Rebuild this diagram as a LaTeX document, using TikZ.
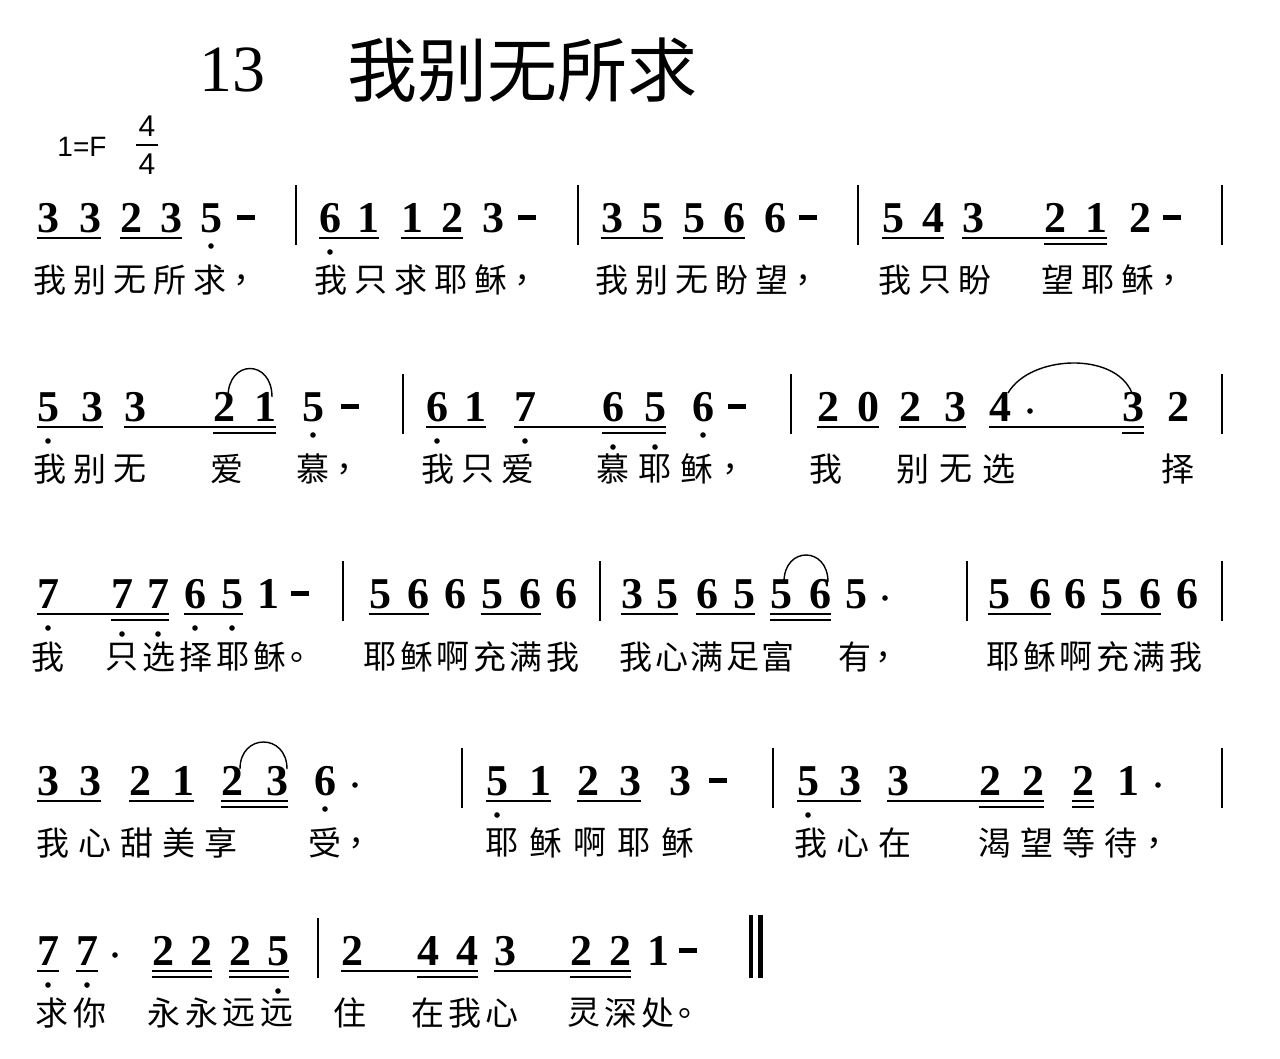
\documentclass[tikz,border=0pt]{standalone}
\usepackage{fontspec}
\setmainfont{Liberation Serif}
\newfontfamily\cjk{Noto Sans CJK SC}
\newfontfamily\sansf{Liberation Sans}
\tikzset{
 note/.style={inner sep=0pt,anchor=base,font=\bfseries\fontsize{44}{44}\selectfont},
 lyr/.style={inner sep=0pt,anchor=center,font=\cjk\fontsize{33}{33}\selectfont},
 ulin/.style={line width=2.2pt},
 barl/.style={line width=1.4pt},
 tie/.style={line width=1.4pt}
}
\newcommand\nt[3]{\node[note] at (#1,#2) {#3};}
\newcommand\ua[3]{\draw[ulin] (#1,#3+6) -- (#2,#3+6);}
\newcommand\ub[3]{\draw[ulin] (#1,#3+12) -- (#2,#3+12);}
\newcommand\ld[2]{\fill (#1,#2) circle (2.8);}
\newcommand\dsh[2]{\fill (#1-9,#2-17) rectangle (#1+9,#2-12);}
\newcommand\bl[2]{\draw[barl] (#1,#2-47) -- (#1,#2+13);}
\newcommand\ly[4]{\foreach \c [count=\i from 0] in {#4} {\node[lyr] at (#1+\i*#3,#2) {\c};}}
\begin{document}
\begin{tikzpicture}[x=1pt,y=-1pt]
\useasboundingbox[fill=white] (0,0) rectangle (1280,1058);
\node[inner sep=0pt,font=\fontsize{66}{66}\selectfont] (t1) at (232,70) {13};
\node[inner sep=0pt,font=\cjk\fontsize{70}{70}\selectfont] (t2) at (522,70) {我别无所求};
\node[inner sep=0pt,font=\sansf\fontsize{28}{28}\selectfont] (key) at (82,147) {1=F};
\node[inner sep=0pt,font=\sansf\fontsize{30}{30}\selectfont] (ts1) at (147,126) {4};
\node[inner sep=0pt,font=\sansf\fontsize{30}{30}\selectfont] (ts2) at (147,164) {4};
\draw[line width=1.2pt] (136,145) -- (158,145);
% ---------- row 1
\def\r{232}
\nt{48}{\r}{3}\nt{90}{\r}{3}\nt{131}{\r}{2}\nt{171}{\r}{3}\nt{211}{\r}{5}\ld{211}{\r+14}\dsh{246}{\r}
\ua{37}{101}{\r}\ua{120}{182}{\r}
\bl{296}{\r}
\nt{330}{\r}{6}\ld{330}{\r+20}\nt{368}{\r}{1}\nt{412}{\r}{1}\nt{452}{\r}{2}\nt{493}{\r}{3}\dsh{527}{\r}
\ua{319}{379}{\r}\ua{401}{463}{\r}
\bl{578}{\r}
\nt{612}{\r}{3}\nt{652}{\r}{5}\nt{694}{\r}{5}\nt{734}{\r}{6}\nt{775}{\r}{6}\dsh{808}{\r}
\ua{601}{663}{\r}\ua{683}{745}{\r}
\bl{858}{\r}
\nt{893}{\r}{5}\nt{933}{\r}{4}\nt{973}{\r}{3}\nt{1055}{\r}{2}\nt{1096}{\r}{1}\nt{1140}{\r}{2}\dsh{1172}{\r}
\ua{882}{944}{\r}\ua{962}{1107}{\r}\ub{1044}{1107}{\r}
\bl{1222}{\r}
\ly{50}{\r+48}{40}{我,别,无,所,求,，}
\ly{331}{\r+48}{40}{我,只,求,耶,稣,，}
\ly{612}{\r+48}{40}{我,别,无,盼,望,，}
\ly{895}{\r+48}{40}{我,只,盼}
\ly{1058}{\r+48}{40}{望,耶,稣,，}
% ---------- row 2
\def\r{421}
\nt{48}{\r}{5}\ld{48}{\r+20}\nt{92}{\r}{3}\nt{135}{\r}{3}\nt{224}{\r}{2}\nt{265}{\r}{1}\nt{313}{\r}{5}\ld{313}{\r+14}\dsh{350}{\r}
\ua{37}{103}{\r}\ua{124}{276}{\r}\ub{213}{276}{\r}
\draw[tie] (228,\r-24) .. controls (228,\r-62) and (272,\r-62) .. (272,\r-24);
\bl{403}{\r}
\nt{437}{\r}{6}\ld{437}{\r+20}\nt{475}{\r}{1}\nt{525}{\r}{7}\ld{525}{\r+20}\nt{613}{\r}{6}\ld{613}{\r+26}\nt{655}{\r}{5}\ld{655}{\r+26}\nt{703}{\r}{6}\ld{703}{\r+14}\dsh{737}{\r}
\ua{426}{486}{\r}\ua{514}{666}{\r}\ub{602}{666}{\r}
\bl{791}{\r}
\nt{828}{\r}{2}\nt{868}{\r}{0}\nt{910}{\r}{2}\nt{955}{\r}{3}\nt{1000}{\r}{4}\fill (1030,\r-10) circle (2.8);\nt{1133}{\r}{3}\nt{1178}{\r}{2}
\ua{817}{879}{\r}\ua{899}{966}{\r}\ua{989}{1144}{\r}\ub{1122}{1144}{\r}
\draw[tie] (1008,\r-28) .. controls (1030,\r-66) and (1115,\r-70) .. (1132,\r-28);
\bl{1222}{\r}
\ly{50}{\r+48}{40}{我,别,无}
\node[lyr] at (227,\r+48) {爱};
\ly{313}{\r+48}{40}{慕,，}
\ly{438}{\r+48}{40}{我,只,爱}
\ly{613}{\r+48}{42}{慕,耶,稣,，}
\node[lyr] at (826,\r+48) {我};
\ly{913}{\r+48}{43}{别,无,选}
\node[lyr] at (1178,\r+48) {择};
% ---------- row 3
\def\r{608}
\nt{48}{\r}{7}\ld{48}{\r+20}\nt{122}{\r}{7}\ld{122}{\r+26}\nt{158}{\r}{7}\ld{158}{\r+26}\nt{195}{\r}{6}\ld{195}{\r+20}\nt{232}{\r}{5}\ld{232}{\r+20}\nt{268}{\r}{1}\dsh{300}{\r}
\ua{37}{169}{\r}\ub{111}{169}{\r}\ua{184}{243}{\r}
\bl{343}{\r}
\nt{380}{\r}{5}\nt{418}{\r}{6}\nt{455}{\r}{6}\nt{492}{\r}{5}\nt{530}{\r}{6}\nt{566}{\r}{6}
\ua{369}{429}{\r}\ua{481}{541}{\r}
\bl{600}{\r}
\nt{632}{\r}{3}\nt{667}{\r}{5}\nt{707}{\r}{6}\nt{744}{\r}{5}\nt{781}{\r}{5}\nt{820}{\r}{6}\nt{856}{\r}{5}\fill (885,\r-10) circle (2.8);
\ua{621}{678}{\r}\ua{696}{755}{\r}\ua{770}{831}{\r}\ub{770}{831}{\r}
\draw[tie] (784,\r-26) .. controls (784,\r-62) and (828,\r-62) .. (828,\r-26);
\bl{967}{\r}
\nt{999}{\r}{5}\nt{1040}{\r}{6}\nt{1075}{\r}{6}\nt{1112}{\r}{5}\nt{1150}{\r}{6}\nt{1187}{\r}{6}
\ua{988}{1051}{\r}\ua{1101}{1161}{\r}
\bl{1222}{\r}
\node[lyr] at (48,\r+49) {我};
\ly{122}{\r+49}{37}{只,选,择,耶,稣,。}
\ly{380}{\r+49}{36.5}{耶,稣,啊,充,满,我}
\ly{636}{\r+49}{35.5}{我,心,满,足,富}
\ly{855}{\r+49}{37}{有,，}
\ly{1003}{\r+49}{36.5}{耶,稣,啊,充,满,我}
% ---------- row 4
\def\r{795}
\nt{48}{\r}{3}\nt{90}{\r}{3}\nt{140}{\r}{2}\nt{183}{\r}{1}\nt{232}{\r}{2}\nt{277}{\r}{3}\nt{325}{\r}{6}\ld{325}{\r+14}\fill (355,\r-10) circle (2.8);
\ua{37}{101}{\r}\ua{129}{194}{\r}\ua{221}{288}{\r}\ub{221}{288}{\r}
\draw[tie] (240,\r-26) .. controls (240,\r-62) and (287,\r-62) .. (287,\r-26);
\bl{462}{\r}
\nt{497}{\r}{5}\ld{497}{\r+20}\nt{540}{\r}{1}\nt{588}{\r}{2}\nt{630}{\r}{3}\nt{680}{\r}{3}\dsh{718}{\r}
\ua{486}{551}{\r}\ua{577}{641}{\r}
\bl{773}{\r}
\nt{808}{\r}{5}\ld{808}{\r+20}\nt{850}{\r}{3}\nt{898}{\r}{3}\nt{990}{\r}{2}\nt{1033}{\r}{2}\nt{1083}{\r}{2}\nt{1128}{\r}{1}\fill (1158,\r-10) circle (2.8);
\ua{797}{861}{\r}\ua{887}{1044}{\r}\ub{979}{1044}{\r}\ua{1072}{1094}{\r}\ub{1072}{1094}{\r}
\bl{1222}{\r}
\ly{53}{\r+48}{42}{我,心,甜,美,享}
\ly{325}{\r+48}{40}{受,，}
\ly{502}{\r+48}{44}{耶,稣,啊,耶,稣}
\ly{811}{\r+48}{42}{我,心,在}
\ly{995}{\r+48}{42}{渴,望,等,待,，}
% ---------- row 5
\def\r{965}
\nt{48}{\r}{7}\ld{48}{\r+20}\nt{87}{\r}{7}\ld{87}{\r+20}\fill (115,\r-10) circle (2.8);
\nt{163}{\r}{2}\nt{201}{\r}{2}\nt{240}{\r}{2}\nt{278}{\r}{5}\ld{278}{\r+26}
\ua{37}{59}{\r}\ua{76}{98}{\r}\ua{152}{212}{\r}\ub{152}{212}{\r}\ua{229}{289}{\r}\ub{229}{289}{\r}
\bl{318}{\r}
\nt{352}{\r}{2}\nt{428}{\r}{4}\nt{467}{\r}{4}\nt{505}{\r}{3}\nt{581}{\r}{2}\nt{620}{\r}{2}\nt{658}{\r}{1}\dsh{688}{\r}
\ua{341}{478}{\r}\ub{417}{478}{\r}\ua{494}{631}{\r}\ub{570}{631}{\r}
\draw[line width=4pt] (751,\r-50) -- (751,\r+13);
\draw[line width=5pt] (760,\r-50) -- (760,\r+13);
\ly{52}{\r+48}{38}{求,你}
\ly{164}{\r+48}{37.5}{永,永,远,远}
\node[lyr] at (350,\r+48) {住};
\ly{428}{\r+48}{37}{在,我,心}
\ly{584}{\r+48}{37}{灵,深,处,。}
\end{tikzpicture}
\end{document}
